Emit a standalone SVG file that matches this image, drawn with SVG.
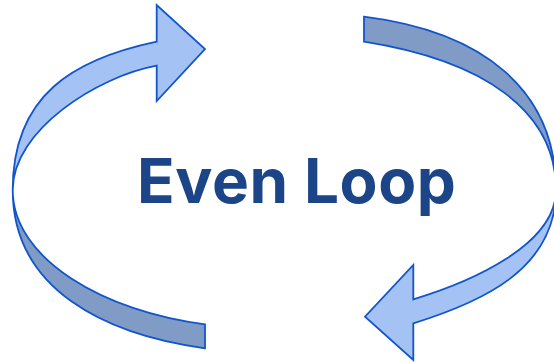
<svg xmlns="http://www.w3.org/2000/svg" width="554" height="363" viewBox="0 0 554 363">
<style>
.light{fill:#a4c2f4;stroke:#1155cc;stroke-width:1.8;stroke-linejoin:miter}
.dark{fill:#809cc6;stroke:#1155cc;stroke-width:1.8;stroke-linejoin:miter}
.title{font-family:Inter,"Liberation Sans",sans-serif;font-weight:700;font-size:62px;letter-spacing:0.6px;fill:#1c4587}
</style>
<rect width="554" height="363" fill="#ffffff"/>
<g id="connectors">
<g id="arrow-left">
<path class="dark" d="M12.7,190 C12.7,290 106,334.8 205,348.3 L205,324.3 C105.8,311.9 12.7,260 12.7,190 Z"/>
<path class="light" d="M156.7,65.7 L156.7,101 L205,49 L156.7,5 L156.7,41.7 C73.6,59.2 12.7,95 12.7,190 C12.7,130 97.7,76.4 156.7,65.7 Z"/>
</g>
<g id="arrow-right">
<path class="dark" d="M364,16.7 C483,31.6 556,90 556,190 C556,110 482.6,60.4 364,41.7 Z"/>
<path class="light" d="M556,190 C556,270 480.2,302.5 413.3,323.3 L413.3,360 L365,316.7 L413.3,265 L413.3,299.3 C470.8,282 556,245 556,190 Z"/>
</g>
</g>
<g id="label">
<text class="title" x="137" y="203">Even Loop</text>
</g>
</svg>
